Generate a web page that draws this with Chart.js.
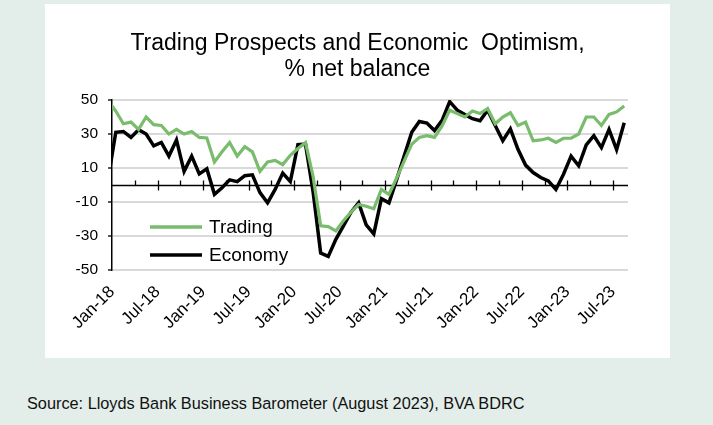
<!DOCTYPE html>
<html>
<head>
<meta charset="utf-8">
<script src="https://cdn.jsdelivr.net/npm/chart.js@4.4.0/dist/chart.umd.min.js"></script>
<style>
  html, body { margin: 0; padding: 0; }
  body {
    width: 713px; height: 425px; overflow: hidden; position: relative;
    background: #e3ede9;
    font-family: "Liberation Sans", Arial, sans-serif;
  }
  .panel { position: absolute; left: 45px; top: 4px; width: 625px; height: 354px; background: #fff; }
  .panel canvas { position: absolute; left: 0; top: 0; }
  .title {
    position: absolute; left: 0; top: 25px; width: 625px;
    text-align: center; font-size: 23px; line-height: 26px; color: #000;
  }
  .source { position: absolute; left: 27px; top: 394px; font-size: 16.3px; color: #111; white-space: nowrap; }
</style>
</head>
<body>
<div class="panel">
  <canvas id="chart" width="625" height="354"></canvas>
  <div class="title">Trading Prospects and Economic&nbsp; Optimism,<br>% net balance</div>
</div>
<div class="source">Source: Lloyds Bank Business Barometer (August 2023), BVA BDRC</div>
<script>
// monthly survey, Dec-17 .. Aug-23 (Dec-17 only shows as the clipped start of the lines)
const months = [
  "Dec-17",
  "Jan-18", "Feb-18", "Mar-18", "Apr-18", "May-18", "Jun-18", "Jul-18", "Aug-18", "Sep-18", "Oct-18", "Nov-18", "Dec-18",
  "Jan-19", "Feb-19", "Mar-19", "Apr-19", "May-19", "Jun-19", "Jul-19", "Aug-19", "Sep-19", "Oct-19", "Nov-19", "Dec-19",
  "Jan-20", "Feb-20", "Mar-20", "Apr-20", "May-20", "Jun-20", "Jul-20", "Aug-20", "Sep-20", "Oct-20", "Nov-20", "Dec-20",
  "Jan-21", "Feb-21", "Mar-21", "Apr-21", "May-21", "Jun-21", "Jul-21", "Aug-21", "Sep-21", "Oct-21", "Nov-21", "Dec-21",
  "Jan-22", "Feb-22", "Mar-22", "Apr-22", "May-22", "Jun-22", "Jul-22", "Aug-22", "Sep-22", "Oct-22", "Nov-22", "Dec-22",
  "Jan-23", "Feb-23", "Mar-23", "Apr-23", "May-23", "Jun-23", "Jul-23", "Aug-23",
]

const trading = [
  49.5,
  43.5, 36, 37, 32.7, 40, 35.5, 35, 30, 32.7, 30, 31.5, 28,
  27.7, 13.5, 19.5, 25, 17, 22.5, 19.5, 8, 13.5, 14.5, 12, 17.5,
  21.5, 25, 5, -24, -24.5, -27, -21, -16, -11.5, -12.5, -14, -2.6,
  -5.5, 4, 14, 24, 28, 29, 28, 34.7, 44, 42, 40, 43.5,
  42, 45, 36, 40, 42.5, 35, 37, 26, 26.5, 27.5, 25, 27.5,
  27.5, 30, 40, 40, 35, 41.5, 43, 46.5,
]

const economy = [
  4,
  31, 31.5, 28, 32.5, 30, 23, 25, 17, 26.5, 8, 17, 6.5,
  9.5, -5.5, -1.6, 3, 2, 5.5, 6, -4.5, -10.5, -2.6, 7, 2,
  23.7, 24, -4, -40, -42, -32, -24, -16, -10.5, -23.4, -28.7, -8,
  -10.5, 3, 17, 31, 37.4, 36.4, 32, 38, 49, 44, 41.4, 39,
  37.8, 44, 35, 26, 33, 21, 11.7, 7.3, 4.4, 2.4, -2.6, 6.3,
  17, 11.3, 23.6, 29, 22, 32.7, 20.8, 36.6,
]

const xTickLabels = ["Jan-18", "Jul-18", "Jan-19", "Jul-19", "Jan-20", "Jul-20",
  "Jan-21", "Jul-21", "Jan-22", "Jul-22", "Jan-23", "Jul-23"]
const yTicks = [-50, -30, -10, 10, 30, 50]

const FONT = "'Liberation Sans', Arial, sans-serif"
const GREEN = "#78bc6c"

Chart.defaults.font.family = FONT
Chart.defaults.color = "#000"

// x is months since 1 Jan 2018, each survey plotted mid-month
const toPoints = (values) => values.map((v, k) => ({ x: k - 0.5, y: v, label: months[k] }))

// black zero line with the 3-monthly tick marks
const zeroAxis = {
  id: "zeroAxis",
  beforeDatasetsDraw(chart) {
    const { ctx, chartArea, scales: { x, y } } = chart
    const y0 = Math.round(y.getPixelForValue(0)) + 0.5
    ctx.save()
    ctx.strokeStyle = "#000"
    ctx.lineWidth = 1.3
    ctx.beginPath()
    ctx.moveTo(chartArea.left, y0)
    ctx.lineTo(chartArea.right, y0)
    for (let m = 3; m <= 66; m += 3) {
      const px = Math.round(x.getPixelForValue(m)) + 0.5
      ctx.moveTo(px, y0 - 5)
      ctx.lineTo(px, m % 6 === 0 ? y0 + 5 : y0)
    }
    ctx.stroke()
    ctx.restore()
  },
}

// legend sits inside the plot, left side below the zero line
const insideLegend = {
  id: "insideLegend",
  afterDatasetsDraw(chart) {
    const { ctx, chartArea } = chart
    ctx.save()
    chart.data.datasets.forEach((ds, i) => {
      const y = chartArea.top + 127 + i * 28
      const x0 = chartArea.left + 38
      ctx.strokeStyle = ds.borderColor
      ctx.lineWidth = 3.5
      ctx.beginPath()
      ctx.moveTo(x0, y)
      ctx.lineTo(x0 + 52, y)
      ctx.stroke()
      ctx.fillStyle = "#000"
      ctx.font = "19px " + FONT
      ctx.textBaseline = "middle"
      ctx.fillText(ds.label, x0 + 59, y + 1)
    })
    ctx.restore()
  },
}

new Chart(document.getElementById("chart"), {
  type: "line",
  data: {
    datasets: [
      {
        label: "Trading",
        data: toPoints(trading),
        borderColor: GREEN,
        borderWidth: 3.2,
        pointRadius: 0,
        tension: 0,
        clip: 0,
      },
      {
        label: "Economy",
        data: toPoints(economy),
        borderColor: "#000",
        borderWidth: 3.5,
        pointRadius: 0,
        tension: 0,
        clip: 0,
      },
    ],
  },
  options: {
    responsive: false,
    animation: false,
    layout: { padding: { left: 0, right: 42, top: 96, bottom: 0 } },
    plugins: {
      legend: { display: false },
      tooltip: { enabled: false },
    },
    scales: {
      x: {
        type: "linear",
        min: 0,
        max: 68,
        grid: { display: false, drawTicks: false },
        border: { display: false },
        afterBuildTicks: (scale) => {
          scale.ticks = xTickLabels.map((_, k) => ({ value: k * 6 }))
        },
        afterFit: (scale) => { scale.height = 88 },
        ticks: {
          autoSkip: false,
          minRotation: 45,
          maxRotation: 45,
          padding: 12,
          font: { size: 17 },
          callback: (value, index) => xTickLabels[index],
        },
      },
      y: {
        min: -50,
        max: 50,
        afterBuildTicks: (scale) => {
          scale.ticks = yTicks.map((v) => ({ value: v }))
        },
        afterFit: (scale) => { scale.width = 67 },
        grid: {
          color: "#d9d9d9",
          lineWidth: 2,
          tickColor: "#000",
          tickLength: 4,
          tickWidth: 1.3,
        },
        border: { color: "#000", width: 1.5 },
        ticks: { padding: 10, font: { size: 15.5 } },
      },
    },
  },
  plugins: [zeroAxis, insideLegend],
})
</script>
</body>
</html>
